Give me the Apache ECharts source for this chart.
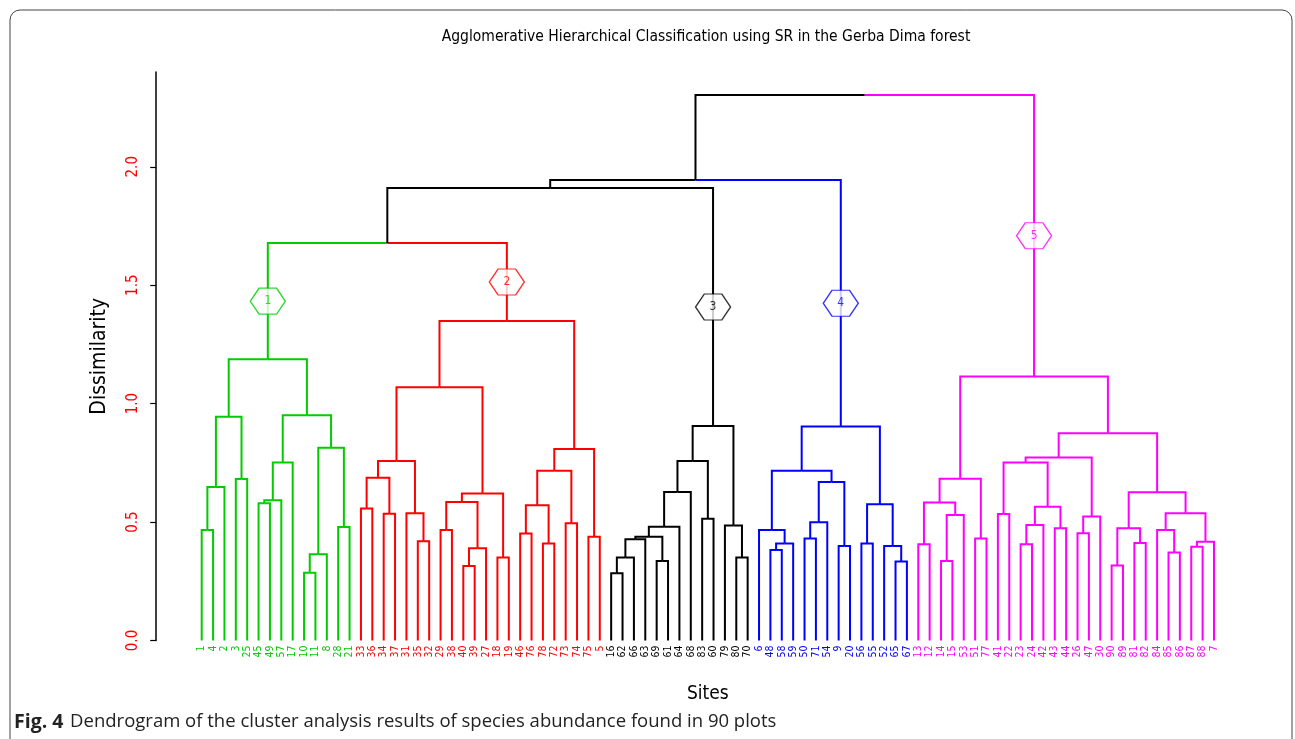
<!DOCTYPE html>
<html>
<head>
<meta charset="utf-8">
<script src="https://cdn.jsdelivr.net/npm/echarts@6/dist/echarts.min.js"></script>
<style>
html,body{margin:0;padding:0;background:#fff;}
#chart{width:1295px;height:739px;}
</style>
</head>
<body>
<div id="chart"></div>
<script>
// ---- data ----
const leafLabels = [
  '1','4','2','3','25','45','49','57','17','10','11','8','28','21',
  '33','36','34','37','31','35','32','29','38','40','39','27','18','19','46','76','78','72','73','74','75','5',
  '16','62','66','63','69','61','64','68','83','60','79','80','70',
  '6','48','58','59','50','71','54','9','20','56','55','52','65','67',
  '13','12','14','15','53','51','77','41','22','23','24','42','43','44','26','47','30','90','89','81','82','84','85','86','87','88','7'
];
const clusterSizes = [14, 22, 13, 14, 27];
const clusterNames = ['1', '2', '3', '4', '5'];
const clusterColors = ['#00CC00', '#FF0000', '#000000', '#0000FF', '#FF00FF'];
const clusterTopRows = [13, 34, 47, 61, 88];
// linkage (R hclust convention): negative = leaf position, positive = earlier merge row
const mergeA = [-1,1,-4,2,-6,5,6,-10,8,-13,9,7,4,
  -15,-17,14,-20,-19,16,-22,-24,21,20,-27,23,19,-29,-31,27,-33,29,-35,31,26,13,
  -37,36,37,-41,38,40,41,-45,42,-48,-47,44,35,
  -51,49,-50,-54,52,-57,53,51,-59,-62,-61,57,56,48,
  -64,-66,64,63,-69,66,-71,-73,70,-76,71,69,-78,75,74,-81,-83,78,-86,-85,-88,83,82,80,77,68,62];
const mergeB = [-2,-3,-5,3,-7,-8,-9,-11,-12,-14,10,11,12,
  -16,-18,15,-21,17,18,-23,-25,-26,22,-28,24,25,-30,-32,28,-34,30,-36,32,33,34,
  -38,-39,-40,-42,39,-43,-44,-46,43,-49,45,46,47,
  -52,-53,50,-55,-56,-58,54,55,-60,-63,58,59,60,61,
  -65,-67,-68,65,-70,67,-72,-74,-75,-77,72,73,-79,-80,76,-82,-84,79,-87,81,-89,-90,84,85,86,87,88];
const mergeHeight = [0.467,0.648,0.682,0.945,0.579,0.592,0.751,0.286,0.364,0.479,0.814,0.951,1.187,
  0.557,0.535,0.687,0.419,0.537,0.758,0.467,0.315,0.389,0.585,0.350,0.621,1.069,0.452,0.410,0.571,0.495,0.717,0.438,0.808,1.349,1.678,
  0.284,0.350,0.427,0.336,0.438,0.480,0.627,0.514,0.758,0.350,0.486,0.906,1.910,
  0.382,0.410,0.467,0.431,0.499,0.399,0.669,0.717,0.410,0.333,0.399,0.575,0.903,1.944,
  0.406,0.336,0.530,0.583,0.431,0.683,0.534,0.406,0.488,0.474,0.565,0.751,0.453,0.523,0.773,0.317,0.412,0.474,0.371,0.467,0.396,0.417,0.537,0.626,0.875,1.114,2.303];
const yTicks = [0, 0.5, 1.0, 1.5, 2.0];
const titleText = 'Agglomerative Hierarchical Classification using SR in the Gerba Dima forest';
const xName = 'Sites';
const yName = 'Dissimilarity';

// ---- derived tree geometry ----
const leafCluster = [];
clusterSizes.forEach((s, c) => { for (let i = 0; i < s; i++) leafCluster.push(c); });
const rowX = [], rowH = [], rowColor = [], rowParent = [];
function nodeX(r) { return r < 0 ? -r : rowX[r - 1]; }
function nodeH(r) { return r < 0 ? 0 : rowH[r - 1]; }
for (let k = 0; k < mergeA.length; k++) {
  rowX.push((nodeX(mergeA[k]) + nodeX(mergeB[k])) / 2);
  rowH.push(mergeHeight[k]);
  rowColor.push(-1);
  [mergeA[k], mergeB[k]].forEach(ch => { if (ch > 0) rowParent[ch - 1] = k + 1; });
}
function paint(r, c) {
  if (r < 0) return;
  rowColor[r - 1] = c;
  paint(mergeA[r - 1], c); paint(mergeB[r - 1], c);
}
clusterTopRows.forEach((r, c) => paint(r, c));
function nodeColor(r) {
  if (r < 0) return leafCluster[-r - 1];
  return rowColor[r - 1] < 0 ? 2 : rowColor[r - 1];
}
const segs = [];
for (let k = 0; k < mergeA.length; k++) {
  const px = rowX[k], ph = rowH[k];
  [mergeA[k], mergeB[k]].forEach(ch => {
    segs.push([nodeX(ch), nodeH(ch), nodeX(ch), ph, px, ph, nodeColor(ch)]);
  });
}
const hexData = clusterTopRows.map((r, c) => {
  const par = rowParent[r - 1];
  return {
    value: [rowX[r - 1], (rowH[r - 1] + rowH[par - 1]) / 2, clusterNames[c]],
    itemStyle: { color: '#ffffff', borderColor: clusterColors[c], borderWidth: 1.3 },
    label: { color: clusterColors[c] }
  };
});
const leafPositions = leafLabels.map((_, i) => i + 1);

const NARROW = "'Liberation Sans Narrow', 'DejaVu Sans Condensed', 'Roboto Condensed', sans-serif";

const chart = echarts.init(document.getElementById('chart'), null, { renderer: 'canvas' });
chart.setOption({
  backgroundColor: '#ffffff',
  animation: false,
  grid: { left: 156.2, right: 35.5, top: 72, bottom: 98.5 },
  xAxis: {
    type: 'value', min: -3, max: 94, interval: 1,
    axisLine: { show: false, onZero: false }, axisTick: { show: false }, splitLine: { show: false },
    axisLabel: {
      customValues: leafPositions,
      rotate: 90, margin: 5, fontSize: 10.5, fontFamily: NARROW,
      formatter: v => leafLabels[Math.round(v) - 1] || '',
      color: v => clusterColors[leafCluster[Math.round(Number(v)) - 1]] || '#000'
    },
    name: xName, nameLocation: 'middle', nameGap: 44,
    nameTextStyle: { fontSize: 19, fontFamily: NARROW, color: '#000' }
  },
  yAxis: {
    type: 'value', min: 0, max: 2.4,
    axisLine: { show: true, onZero: false, lineStyle: { color: '#000', width: 1.5 } },
    axisTick: { show: true, customValues: yTicks, length: 6, lineStyle: { color: '#000', width: 1.2 } },
    splitLine: { show: false },
    axisLabel: {
      customValues: yTicks, rotate: 90, margin: 16, fontSize: 15, fontFamily: NARROW, color: '#FF0000',
      formatter: v => Number(v).toFixed(1)
    },
    name: yName, nameLocation: 'middle', nameGap: 46, nameRotate: 90,
    nameTextStyle: { fontSize: 21, fontFamily: NARROW, color: '#000' }
  },
  series: [
    {
      type: 'custom',
      clip: false,
      data: segs,
      encode: { x: [0, 2, 4], y: [1, 3, 5] },
      renderItem: function (params, api) {
        const a = api.coord([api.value(0), api.value(1)]);
        const b = api.coord([api.value(2), api.value(3)]);
        const c = api.coord([api.value(4), api.value(5)]);
        return {
          type: 'polyline',
          shape: { points: [a, b, c] },
          style: { stroke: clusterColors[api.value(6)], lineWidth: 2, fill: null }
        };
      }
    },
    {
      type: 'scatter',
      data: hexData,
      symbol: 'path://M0,6L4,0L12,0L16,6L12,12L4,12Z',
      symbolSize: [35, 26],
      z: 5,
      label: {
        show: true, position: 'inside', fontSize: 12, fontFamily: NARROW,
        formatter: p => p.value[2]
      }
    }
  ],
  graphic: [
    {
      type: 'rect', x: 0, y: 0, z: -1,
      shape: { x: 10, y: 10, width: 1282, height: 780, r: 10 },
      style: { fill: null, stroke: '#444', lineWidth: 1 }
    },
    {
      type: 'text', x: 706, y: 37,
      style: { text: titleText, align: 'center', verticalAlign: 'middle',
        font: "15.5px 'Liberation Sans Narrow', 'DejaVu Sans Condensed', sans-serif", fill: '#000' }
    },
    {
      type: 'text', x: 14, y: 722,
      style: {
        text: '{b|Fig. 4}  {r|Dendrogram of the cluster analysis results of species abundance found in 90 plots}',
        verticalAlign: 'middle',
        rich: {
          b: { fontFamily: "'Open Sans', 'Noto Sans', sans-serif", fontWeight: 'bold', fontSize: 19.5, fill: '#222' },
          r: { fontFamily: "'Open Sans', 'Noto Sans', sans-serif", fontSize: 18.5, fill: '#222' }
        }
      }
    }
  ]
});
</script>
</body>
</html>
